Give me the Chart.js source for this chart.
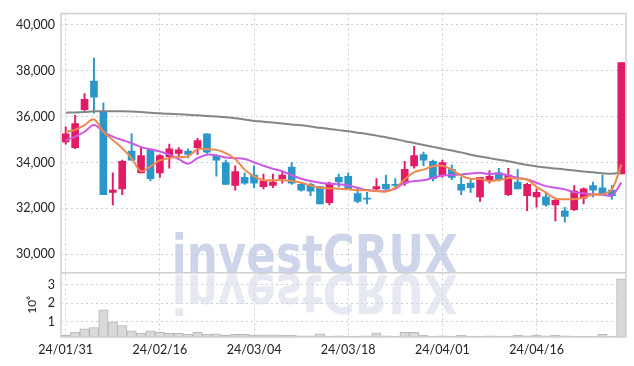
<!DOCTYPE html>
<html>
<head>
<meta charset="utf-8">
<script src="https://cdn.jsdelivr.net/npm/chart.js@4"></script>
<style>
  html, body { margin: 0; padding: 0; background: #fff; }
</style>
</head>
<body>
<canvas id="stockChart" width="634" height="366"></canvas>
<script>
// trading days
const dates = ['24/01/31', '24/02/01', '24/02/02', '24/02/05', '24/02/06', '24/02/07', '24/02/08', '24/02/13', '24/02/14', '24/02/15',
    '24/02/16', '24/02/19', '24/02/20', '24/02/21', '24/02/22', '24/02/23', '24/02/26', '24/02/27', '24/02/28', '24/02/29',
    '24/03/04', '24/03/05', '24/03/06', '24/03/07', '24/03/08', '24/03/11', '24/03/12', '24/03/13', '24/03/14', '24/03/15',
    '24/03/18', '24/03/19', '24/03/20', '24/03/21', '24/03/22', '24/03/25', '24/03/26', '24/03/27', '24/03/28', '24/03/29',
    '24/04/01', '24/04/02', '24/04/03', '24/04/04', '24/04/05', '24/04/08', '24/04/09', '24/04/11', '24/04/12', '24/04/15',
    '24/04/16', '24/04/17', '24/04/18', '24/04/19', '24/04/22', '24/04/23', '24/04/24', '24/04/25', '24/04/26', '24/04/29'];

const openPrices = [34900, 34650, 36300, 37550, 36200, 32700, 32850, 34500, 33550, 34550,
    33550, 34250, 34400, 34500, 34650, 35250, 34300, 34000, 33000, 33350,
    33450, 32950, 33000, 33300, 33800, 33050, 33050, 32950, 32250, 33350,
    33400, 32650, 32450, 32850, 33050, 33050, 33100, 33850, 34350, 34050,
    33450, 33700, 33050, 33100, 32500, 33200, 33550, 32600, 33150, 32550,
    32500, 32500, 32150, 31900, 31950, 32450, 33000, 32900, 32800, 33500];
const highPrices = [35550, 36050, 37000, 38550, 36600, 33550, 34100, 35250, 34700, 34550,
    34350, 34800, 34650, 34600, 35050, 35250, 34350, 34100, 33850, 33550,
    33850, 33500, 33500, 33600, 34000, 33100, 33100, 32950, 33150, 33500,
    33550, 32900, 32700, 33300, 33450, 33300, 34050, 34700, 34450, 34100,
    34100, 33900, 33350, 33250, 33350, 33650, 33750, 33750, 33700, 33100,
    32850, 32700, 32400, 32050, 33000, 32900, 33150, 33450, 33000, 38350];
const lowPrices = [34800, 34600, 36200, 36150, 32600, 32150, 32600, 34100, 33550, 33200,
    33350, 33750, 34300, 34200, 34350, 34400, 33400, 33050, 32800, 33050,
    32900, 32850, 32900, 33100, 33050, 32750, 32550, 32200, 32150, 32950,
    32850, 32250, 32200, 32800, 32800, 32850, 33000, 33750, 33850, 33200,
    33350, 33250, 32600, 32700, 32300, 33100, 33200, 32550, 32850, 31900,
    32050, 32100, 31450, 31400, 31900, 32200, 32500, 32550, 32400, 33500];
const closePrices = [35250, 35700, 36750, 36850, 32600, 32800, 34050, 34100, 34300, 33300,
    34300, 34600, 34550, 34350, 34950, 34450, 34100, 33050, 33600, 33100,
    33100, 33200, 33150, 33450, 33100, 32800, 32750, 32200, 33100, 33150,
    32850, 32300, 32400, 32950, 32850, 33000, 33700, 34300, 34100, 33300,
    34000, 33350, 32800, 32900, 33350, 33400, 33250, 33450, 32850, 33050,
    32700, 32150, 32350, 31650, 32750, 32850, 32800, 32600, 32550, 38350];

// moving averages as drawn
const ma5 = [35340, 35420, 35630, 35880, 35340, 34980, 34620, 34190, 33620, 33830,
    34090, 34190, 34240, 34270, 34580, 34580, 34550, 34410, 34150, 33690,
    33400, 33230, 33230, 33230, 33190, 33120, 33000, 32900, 32870, 32860,
    32830, 32790, 32790, 32760, 32730, 32900, 33260, 33580, 33690, 33840,
    33860, 33690, 33430, 33290, 33290, 33190, 33230, 33330, 33290, 33260,
    32940, 32690, 32430, 32400, 32400, 32470, 32610, 32610, 32830, 33910];
const ma20 = [34960, 35130, 35340, 35630, 35340, 35130, 34980, 34840, 34670, 34580,
    34480, 34340, 34150, 33950, 34190, 34340, 34310, 34220, 34190, 34150,
    34010, 33860, 33730, 33620, 33450, 33290, 33190, 33120, 33070, 33050,
    33000, 32900, 32800, 32760, 32760, 32860, 33120, 33190, 33230, 33330,
    33430, 33450, 33480, 33520, 33550, 33500, 33520, 33430, 33330, 33260,
    33120, 32970, 32900, 32830, 32710, 32660, 32610, 32600, 32570, 33120];
const ma120 = [36170, 36180, 36200, 36230, 36230, 36230, 36230, 36220, 36200, 36170,
    36140, 36120, 36100, 36080, 36060, 36030, 36000, 35970, 35930, 35870,
    35810, 35780, 35740, 35700, 35660, 35620, 35570, 35510, 35460, 35410,
    35360, 35300, 35240, 35170, 35100, 35020, 34930, 34850, 34760, 34680,
    34600, 34520, 34440, 34340, 34260, 34190, 34120, 34050, 33970, 33890,
    33830, 33780, 33740, 33700, 33650, 33610, 33570, 33530, 33510, 33560];

// volume, millions of shares
const volumes = [0.24, 0.42, 0.60, 0.67, 1.64, 0.98, 0.78, 0.49, 0.36, 0.49,
    0.40, 0.35, 0.35, 0.29, 0.40, 0.31, 0.33, 0.24, 0.29, 0.29,
    0.26, 0.27, 0.27, 0.26, 0.25, 0.22, 0.22, 0.33, 0.20, 0.22,
    0.20, 0.20, 0.22, 0.38, 0.22, 0.20, 0.40, 0.40, 0.25, 0.20,
    0.22, 0.20, 0.25, 0.20, 0.20, 0.22, 0.20, 0.20, 0.25, 0.22,
    0.25, 0.22, 0.25, 0.22, 0.20, 0.18, 0.20, 0.30, 0.20, 3.33];

const priceTicks = [30000, 32000, 34000, 36000, 38000, 40000];
const volumeTicks = [1, 2, 3];

const upColor = '#e31b66';
const downColor = '#2b97c9';
const gridColor = '#c9cde2';
const textFont = { family: 'Lato', size: 12.5 };

const candleColors = dates.map((d, i) => closePrices[i] >= openPrices[i] ? upColor : downColor);

// watermark + frame
const decorations = {
    id: 'decorations',
    beforeDatasetsDraw(chart) {
        const { ctx, chartArea } = chart;
        const yMain = chart.scales.y;
        const text = 'investCRUX';
        ctx.save();
        ctx.beginPath();
        ctx.rect(chartArea.left, chartArea.top, chartArea.right - chartArea.left, chartArea.bottom - chartArea.top);
        ctx.clip();
        ctx.font = 'bold 54px "DejaVu Sans"';
        const w = ctx.measureText(text).width;
        const left = chartArea.left + (chartArea.right - chartArea.left) * 0.196;
        const targetW = (chartArea.right - chartArea.left) * 0.506;
        ctx.translate(left, yMain.bottom);
        ctx.scale(targetW / w, 1);
        ctx.textBaseline = 'alphabetic';
        ctx.fillStyle = 'rgba(190, 197, 226, 0.75)';
        ctx.fillText(text, 0, 0);
        ctx.scale(1, -1);
        ctx.fillStyle = 'rgba(214, 218, 232, 0.6)';
        ctx.fillText(text, 0, -2);
        ctx.restore();
    },
    afterDatasetsDraw(chart) {
        const { ctx, chartArea } = chart;
        const yMain = chart.scales.y;
        ctx.save();
        ctx.strokeStyle = '#cfcfcf';
        ctx.lineWidth = 1.5;
        ctx.strokeRect(chartArea.left, chartArea.top, chartArea.right - chartArea.left, chartArea.bottom - chartArea.top);
        ctx.beginPath();
        ctx.moveTo(chartArea.left, yMain.bottom);
        ctx.lineTo(chartArea.right, yMain.bottom);
        ctx.stroke();
        ctx.restore();
    }
};

const ctx = document.getElementById('stockChart').getContext('2d');
const stockChart = new Chart(ctx, {
    type: 'bar',
    data: {
        labels: dates,
        datasets: [
            {
                type: 'line', label: 'MA5', data: ma5, yAxisID: 'y', order: 0,
                borderColor: '#ef8a4f', borderWidth: 2, pointRadius: 0, tension: 0.35
            },
            {
                type: 'line', label: 'MA20', data: ma20, yAxisID: 'y', order: 0,
                borderColor: '#cc58e6', borderWidth: 2, pointRadius: 0, tension: 0.35
            },
            {
                type: 'line', label: 'MA120', data: ma120, yAxisID: 'y', order: 0,
                borderColor: '#858585', borderWidth: 2, pointRadius: 0, tension: 0.35
            },
            {
                label: 'Body', data: dates.map((d, i) => [openPrices[i], closePrices[i]]),
                yAxisID: 'y', order: 1, grouped: false,
                backgroundColor: candleColors, borderWidth: 0, barThickness: 7, minBarLength: 1
            },
            {
                label: 'Wick', data: dates.map((d, i) => [lowPrices[i], highPrices[i]]),
                yAxisID: 'y', order: 2, grouped: false,
                backgroundColor: candleColors, borderWidth: 0, barThickness: 1.3
            },
            {
                label: 'Volume', data: volumes, yAxisID: 'yv', order: 3, grouped: false,
                backgroundColor: '#d9d9d9', borderColor: '#b8b8b8', borderWidth: 1,
                barPercentage: 1, categoryPercentage: 1
            }
        ]
    },
    options: {
        responsive: false,
        animation: false,
        layout: { padding: { left: 16, right: 8, top: 9, bottom: 9 } },
        plugins: {
            legend: { display: false },
            tooltip: { enabled: false }
        },
        scales: {
            x: {
                offset: true,
                afterFit: axis => { axis.height = 20; },
                grid: {
                    offset: false,
                    drawTicks: false,
                    color: c => c.index % 10 === 0 ? gridColor : 'rgba(0,0,0,0)'
                },
                border: { display: false, dash: [2, 3] },
                ticks: {
                    autoSkip: false, maxRotation: 0, padding: 5,
                    color: '#222', font: textFont,
                    callback: (v, i) => i % 10 === 0 ? dates[i] : ''
                }
            },
            yv: {
                position: 'left', stack: 'panels', stackWeight: 65,
                min: 0.15, max: 3.67,
                afterFit: axis => { axis.width = 45; },
                afterBuildTicks: axis => { axis.ticks = volumeTicks.map(v => ({ value: v })); },
                grid: { color: gridColor, drawTicks: false },
                border: { display: false, dash: [2, 3] },
                title: { display: true, text: '10⁶', color: '#222', font: { family: 'Lato', size: 12 }, padding: { top: 9, bottom: 0 } },
                ticks: {
                    autoSkip: false, padding: 6, color: '#222', z: 1,
                    font: { family: 'Lato', size: 12.5, lineHeight: 1 },
                    callback: v => String(v)
                }
            },
            y: {
                position: 'left', stack: 'panels', stackWeight: 262,
                min: 29200, max: 40490,
                afterFit: axis => { axis.width = 45; },
                afterBuildTicks: axis => { axis.ticks = priceTicks.map(v => ({ value: v })); },
                grid: { color: gridColor, drawTicks: false },
                border: { display: false, dash: [2, 3] },
                ticks: {
                    autoSkip: false, padding: 6, color: '#222', font: textFont,
                    callback: v => v.toLocaleString('en-US')
                }
            }
        }
    },
    plugins: [decorations]
});
</script>
</body>
</html>
